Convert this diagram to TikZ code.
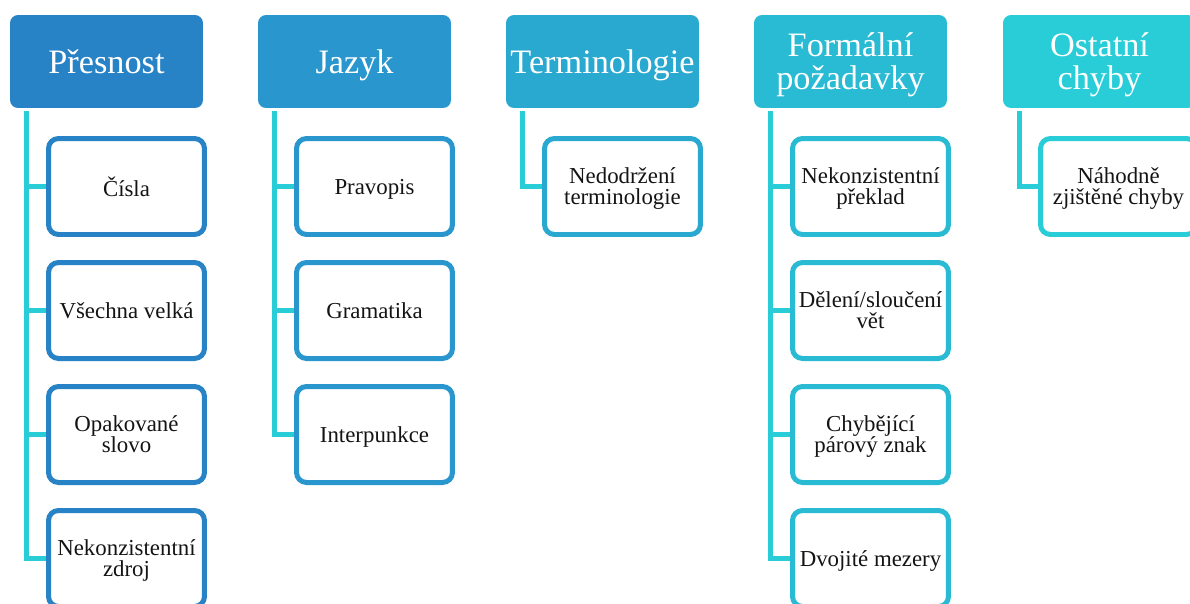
\documentclass[tikz,border=0pt]{standalone}
\usepackage{fontspec}
\setmainfont{Liberation Serif}
\usetikzlibrary{positioning}

\definecolor{colA}{RGB}{40,130,198}
\definecolor{colB}{RGB}{41,150,205}
\definecolor{colC}{RGB}{41,168,208}
\definecolor{colD}{RGB}{41,186,212}
\definecolor{colE}{RGB}{41,205,216}
\definecolor{linkcol}{RGB}{41,205,216}
\definecolor{txtcol}{RGB}{20,20,20}

\tikzset{
  head/.style={fill=#1, text=white, rounded corners=0.16cm, minimum width=3.86cm,
    minimum height=1.86cm, align=center, font=\fontsize{19.5}{18.8}\selectfont,
    inner sep=1pt, text height=18pt, text depth=3.8pt},
  twoline/.style={text height=, text depth=1pt},
  leaf/.style={draw=#1, fill=white, line width=0.1cm, rounded corners=0.2cm, text=txtcol,
    minimum width=3.12cm, minimum height=1.92cm, align=center,
    font=\fontsize{13}{12}\selectfont, inner sep=1pt, text depth=0pt},
  link/.style={draw=linkcol, line width=0.1cm}
}

\begin{document}
\begin{tikzpicture}[x=0.02cm, y=-0.02cm]
  \useasboundingbox (0,0) rectangle (1190,603);

  % top row
  \node[head=colA] (hPres) at (106.5,61.5) {Přesnost};
  \node[head=colB] (hJaz)  at (354.5,61.5) {Jazyk};
  \node[head=colC] (hTerm) at (602.5,61.5) {Terminologie};
  \node[head=colD, twoline] (hForm) at (850.5,61.5) {Formální\\požadavky};
  \node[head=colE, twoline] (hOst)  at (1099.5,61.5) {Ostatní\\chyby};

  % Přesnost
  \node[leaf=colA] (pA) at (126.5,186.5) {Čísla};
  \node[leaf=colA] (pB) at (126.5,310.5) {Všechna velká};
  \node[leaf=colA] (pC) at (126.5,434.5) {Opakované\\slovo};
  \node[leaf=colA] (pD) at (126.5,558.5) {Nekonzistentní\\zdroj};

  % Jazyk
  \node[leaf=colB] (jA) at (374.5,186.5) {Pravopis};
  \node[leaf=colB] (jB) at (374.5,310.5) {Gramatika};
  \node[leaf=colB] (jC) at (374.5,434.5) {Interpunkce};

  % Terminologie
  \node[leaf=colC] (tA) at (622.5,186.5) {Nedodržení\\terminologie};

  % Formální požadavky
  \node[leaf=colD] (fA) at (870.5,186.5) {Nekonzistentní\\překlad};
  \node[leaf=colD] (fB) at (870.5,310.5) {Dělení/sloučení\\vět};
  \node[leaf=colD] (fC) at (870.5,434.5) {Chybějící\\párový znak};
  \node[leaf=colD] (fD) at (870.5,558.5) {Dvojité mezery};

  % Ostatní chyby
  \node[leaf=colE] (oA) at (1118.5,186.5) {Náhodně\\zjištěné chyby};

  % connectors
  \foreach \h/\c in {hPres/pA, hPres/pB, hPres/pC, hPres/pD,
                     hJaz/jA, hJaz/jB, hJaz/jC,
                     hTerm/tA,
                     hForm/fA, hForm/fB, hForm/fC, hForm/fD,
                     hOst/oA}
    \draw[link] ([xshift=0.34cm,yshift=-0.05cm]\h.south west) |- (\c.west);
\end{tikzpicture}
\end{document}
